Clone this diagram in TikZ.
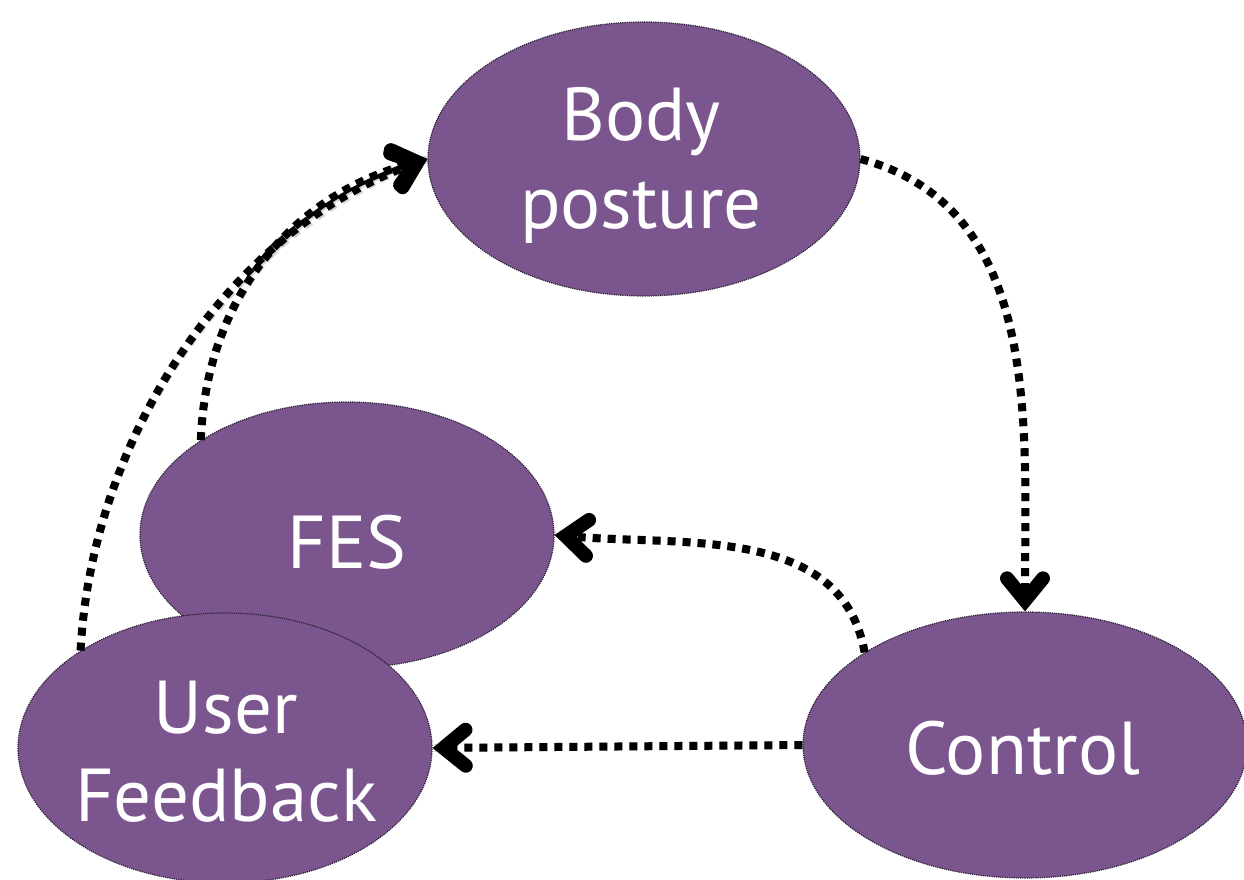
\documentclass[tikz,border=0pt]{standalone}
\usepackage{fontspec}
\setmainfont{PT Sans}
\usetikzlibrary{shapes.geometric,arrows.meta}
\definecolor{nodepurple}{HTML}{7A558E}
\definecolor{rimcol}{HTML}{2B1F33}
\tikzset{
  blob/.style={ellipse, fill=nodepurple, draw=rimcol, densely dotted, line width=1.2pt,
    inner sep=0pt},
  lbl/.style={text=white, align=center, inner sep=0pt, font=\fontsize{75}{88}\selectfont},
  link/.style={line width=8pt, dash pattern=on 8pt off 7pt, black,
    -{Straight Barb[length=22pt,width=36pt,line width=14pt,line cap=round]}},
  linkshade/.style={line width=8pt, dash pattern=on 8pt off 7pt, black, opacity=0.16}
}
\begin{document}
\begin{tikzpicture}[x=1pt,y=1pt]
\useasboundingbox (0,0) rectangle (1244,879);
\node[blob, minimum width=432pt, minimum height=274pt] (body) at (644,720) {};
\node[lbl] (bodyt) at (641,714) {Body\\posture};
\node[blob, minimum width=414pt, minimum height=266pt] (fes) at (347,344) {};
\node[lbl] (fest) at (347,337) {FES};
\node[blob, minimum width=414pt, minimum height=270pt] (uf) at (225,131) {};
\node[lbl] (uft) at (226,127) {User\\Feedback};
\node[blob, minimum width=444pt, minimum height=266pt] (ctrl) at (1025,134) {};
\node[lbl] (ctrlt) at (1023,131) {Control};
% shadows
\begin{scope}[shift={(4,-4)}]
\draw[linkshade] (body.0) to[out=-15,in=90] (ctrl.90);
\draw[linkshade] (ctrl.150) to[out=100,in=-5] (fes.0);
\draw[linkshade] (ctrl.180) -- (uf.0);
\draw[linkshade] (fes.147) to[out=88,in=195] (body.180);
\draw[linkshade] (uf.146) to[out=87,in=200,looseness=0.9] (body.180);
\end{scope}
% connectors
\draw[link] (body.0) to[out=-15,in=90] (ctrl.90);
\draw[link] (ctrl.150) to[out=100,in=-5] (fes.0);
\draw[link] (ctrl.180) -- (uf.0);
\draw[link] (fes.147) to[out=88,in=195] (body.180);
\draw[link] (uf.146) to[out=87,in=200,looseness=0.9] (body.180);
\end{tikzpicture}
\end{document}
